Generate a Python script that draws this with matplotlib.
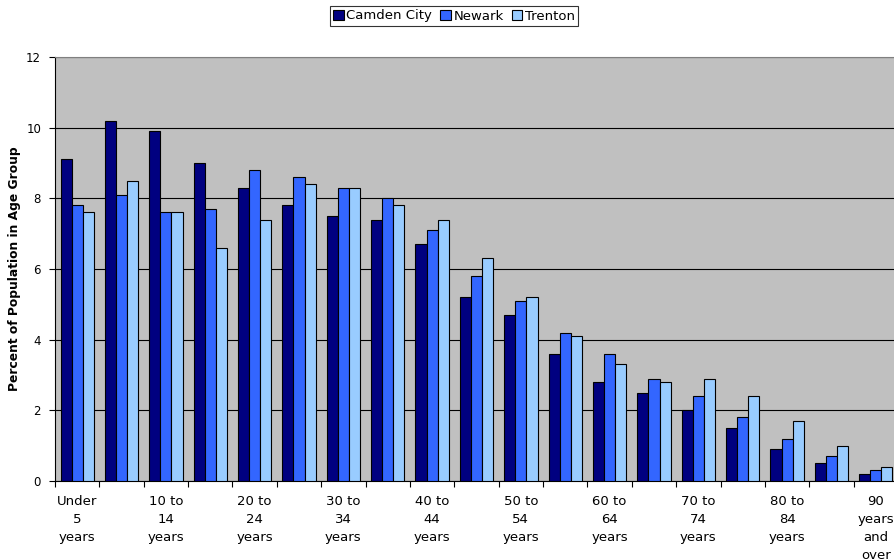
import matplotlib
matplotlib.use('Agg')
import matplotlib.pyplot as plt
import numpy as np

age_groups = ['Under\n5\nyears', '5 to\n9\nyears', '10 to\n14\nyears', '15 to\n19\nyears',
              '20 to\n24\nyears', '25 to\n29\nyears', '30 to\n34\nyears', '35 to\n39\nyears',
              '40 to\n44\nyears', '45 to\n49\nyears', '50 to\n54\nyears', '55 to\n59\nyears',
              '60 to\n64\nyears', '65 to\n69\nyears', '70 to\n74\nyears', '75 to\n79\nyears',
              '80 to\n84\nyears', '85 to\n89\nyears', '90\nyears\nand\nover']
camden = [9.1, 10.2, 9.9, 9.0, 8.3, 7.8, 7.5, 7.4, 6.7, 5.2, 4.7, 3.6, 2.8, 2.5, 2.0, 1.5, 0.9, 0.5, 0.2]
newark = [7.8, 8.1, 7.6, 7.7, 8.8, 8.6, 8.3, 8.0, 7.1, 5.8, 5.1, 4.2, 3.6, 2.9, 2.4, 1.8, 1.2, 0.7, 0.3]
trenton = [7.6, 8.5, 7.6, 6.6, 7.4, 8.4, 8.3, 7.8, 7.4, 6.3, 5.2, 4.1, 3.3, 2.8, 2.9, 2.4, 1.7, 1.0, 0.4]
series_names = ['Camden City', 'Newark', 'Trenton']
colors = ['#000080', '#3366FF', '#99CCFF']

fig = plt.figure(figsize=(8.94, 5.59), dpi=100)
ax = fig.add_axes([55 / 894, 78 / 559, 843 / 894, 424 / 559])
ax.set_facecolor('#C0C0C0')

x = np.arange(len(age_groups))
w = 0.25
for i, (vals, name, c) in enumerate(zip([camden, newark, trenton], series_names, colors)):
    ax.bar(x + (i - 1) * w, vals, w, color=c, edgecolor='black', linewidth=0.8,
           label=name, zorder=3)

ax.set_xlim(-0.5, len(age_groups) - 0.5)
ax.set_ylim(0, 12)
ax.set_yticks(np.arange(0, 13, 2))
ax.yaxis.grid(True, color='black', linewidth=0.8, zorder=1)
ax.tick_params(axis='y', direction='out', length=4, labelsize=8.5, pad=6)

# tick marks at category boundaries, labels at every other category centre
ax.set_xticks(np.arange(-0.5, len(age_groups), 1))
ax.set_xticklabels([])
ax.tick_params(axis='x', which='major', direction='out', length=4)
ax.set_xticks(x[::2], minor=True)
ax.set_xticklabels(age_groups[::2], minor=True, fontsize=9.5, linespacing=1.5)
ax.tick_params(axis='x', which='minor', length=0, pad=10)

for s in ['left', 'bottom']:
    ax.spines[s].set_color('black')
for s in ['top', 'right']:
    ax.spines[s].set_color('#808080')

ax.set_ylabel('Percent of Population in Age Group', fontsize=8.8, fontweight='bold')
ax.yaxis.set_label_coords(-34 / 843, 0.5)

leg = fig.legend(loc='center', bbox_to_anchor=(454 / 894, 1 - 16 / 559), ncol=3,
                 fontsize=9.5, frameon=True, fancybox=False, edgecolor='black',
                 handlelength=0.8, handleheight=0.8, handletextpad=0.2,
                 columnspacing=0.6, borderpad=0.25, borderaxespad=0)
leg.get_frame().set_linewidth(0.8)

fig.savefig('out.png', dpi=100)
